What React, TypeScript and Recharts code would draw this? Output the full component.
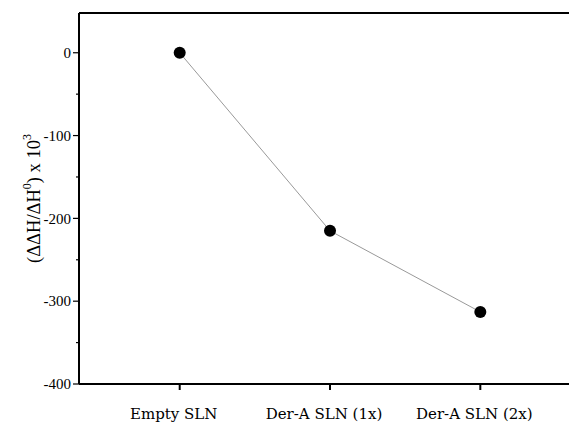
import { LineChart, Line, XAxis, YAxis, ReferenceLine } from "recharts";

const categories = ["Empty SLN", "Der-A SLN (1x)", "Der-A SLN (2x)"];
const values = [0, -215, -313];
const yTicks = [-400, -350, -300, -250, -200, -150, -100, -50, 0];

const data = categories.map((name, i) => ({ idx: i, name, value: values[i] }));

const TICK_SIZE = 5;
const TICK_MARGIN = 3;

function YTick(props: any) {
  const { x, y, payload } = props;
  const axisX = x + TICK_SIZE + TICK_MARGIN;
  const major = payload.value % 100 === 0;
  return (
    <g>
      <line
        x1={axisX}
        x2={axisX - (major ? 6 : 3)}
        y1={y}
        y2={y}
        stroke="#000"
        strokeWidth={1.2}
      />
      {major && (
        <text
          x={x}
          y={y}
          dy="0.35em"
          textAnchor="end"
          fontFamily="'Liberation Serif', serif"
          fontSize={15}
          fill="#000"
        >
          {payload.value}
        </text>
      )}
    </g>
  );
}

function XTick(props: any) {
  const { x, y, payload } = props;
  return (
    <text
      x={x - 6}
      y={y}
      dy="0.71em"
      textAnchor="middle"
      fontFamily="'DejaVu Serif', serif"
      fontSize={15}
      fill="#000"
    >
      {categories[payload.value]}
    </text>
  );
}

function YLabel(props: any) {
  const { viewBox } = props;
  const cx = viewBox.x + 34;
  const cy = viewBox.y + viewBox.height / 2;
  return (
    <text
      x={cx}
      y={cy}
      transform={`rotate(-90, ${cx}, ${cy})`}
      textAnchor="middle"
      dominantBaseline="central"
      fontFamily="'Liberation Serif', serif"
      fontSize={18.5}
      fill="#000"
    >
      <tspan>(ΔΔH/ΔH</tspan>
      <tspan fontSize={12} dy={-7}>0</tspan>
      <tspan dy={7}>) x 10</tspan>
      <tspan fontSize={12} dy={-7}>3</tspan>
    </text>
  );
}

export default function App() {
  return (
    <div style={{ position: "absolute", left: 0, top: 0, background: "#fff" }}>
      <LineChart
        width={569}
        height={425}
        data={data}
        margin={{ top: 13, right: 0, bottom: 0, left: 0 }}
      >
        <XAxis
          dataKey="idx"
          type="number"
          domain={[-0.67, 2.59]}
          ticks={[0, 1, 2]}
          height={41}
          tickSize={6}
          tickMargin={18}
          stroke="#000"
          strokeWidth={2}
          tick={<XTick />}
          allowDataOverflow
        />
        <YAxis
          type="number"
          domain={[-400, 48]}
          ticks={yTicks}
          width={79}
          tickLine={false}
          tickSize={TICK_SIZE}
          tickMargin={TICK_MARGIN}
          stroke="#000"
          strokeWidth={2}
          tick={<YTick />}
          interval={0}
          allowDataOverflow
          label={<YLabel />}
        />
        <ReferenceLine y={48} stroke="#000" strokeWidth={2} />
        <Line
          dataKey="value"
          stroke="#999"
          strokeWidth={1}
          dot={{ r: 6, fill: "#000", stroke: "#000", strokeWidth: 0 }}
          activeDot={false}
          isAnimationActive={false}
        />
      </LineChart>
    </div>
  );
}
